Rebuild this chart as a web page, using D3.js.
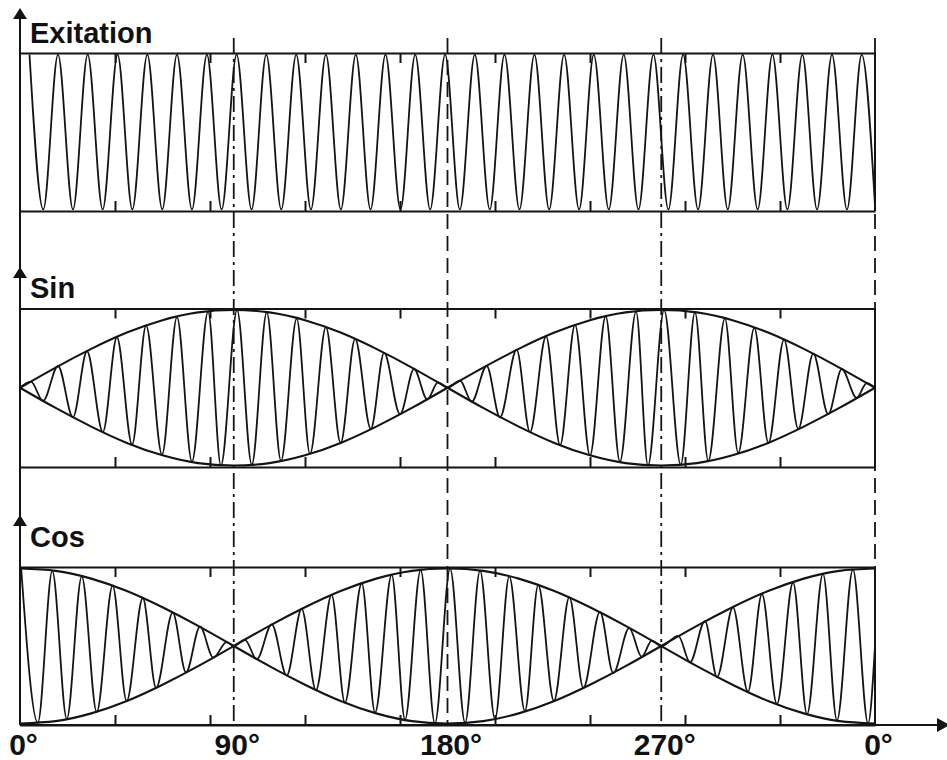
<!DOCTYPE html>
<html>
<head>
<meta charset="utf-8">
<script src="https://cdn.jsdelivr.net/npm/d3@7"></script>
<style>
  body { margin: 0; background: #fff; }
  text { font-family: "Liberation Sans", Arial, sans-serif; font-weight: bold; fill: #111; }
</style>
</head>
<body>
<svg width="947" height="760"></svg>
<script>
// x axis, degrees of rotor angle
const tickAngles = [0, 90, 180, 270, 360];
const tickLabels = ["0°", "90°", "180°", "270°", "0°"];
const gridAngles = [40, 80, 120, 160, 200, 240, 280, 320];
const panelNames = ["Exitation", "Sin", "Cos"];

// excitation carrier, read peak / trough angles
const excPeaks = [4.0, 16.0, 28.5, 41.1, 53.6, 66.1, 78.7, 91.2, 103.7, 116.3, 128.8, 141.4, 153.9, 166.4,
  179.0, 191.5, 204.0, 216.6, 229.1, 241.6, 254.2, 266.7, 279.2, 291.8, 304.3, 316.8, 329.4, 341.9, 354.4];
const excTroughs = [9.8, 22.3, 34.8, 47.3, 59.9, 72.4, 84.9, 97.5, 110.0, 122.5, 135.1, 147.6, 160.2, 172.7,
  185.2, 197.8, 210.3, 222.8, 235.4, 247.9, 260.4, 273.0, 285.5, 298.0, 310.6, 323.1, 335.6, 348.2];
const excEnds = [[360, -0.95]];

// sin winding: [angle, amplitude] at upper peaks and lower troughs
const sinUpper = [[4.6, .08], [16.0, .28], [28.2, .47], [40.8, .65], [53.1, .80], [66.1, .91], [79.2, .98],
  [91.4, 1.0], [103.9, .97], [116.5, .89], [128.8, .78], [141.1, .63], [153.3, .45], [165.9, .24], [176.0, .07],
  [185.3, .09], [196.5, .28], [209.1, .49], [221.5, .66], [233.7, .81], [246.6, .92], [259.4, .98], [271.2, 1.0],
  [284.2, .97], [296.8, .89], [309.2, .77], [321.7, .62], [334.0, .44], [346.0, .24], [356.5, .06]];
const sinLower = [[9.7, .17], [22.3, .38], [34.9, .57], [47.2, .73], [59.8, .86], [72.4, .95], [84.6, 1.0],
  [97.6, .99], [109.9, .94], [122.1, .85], [135.0, .71], [147.7, .53], [160.0, .34], [171.5, .15],
  [190.2, .18], [202.1, .38], [214.7, .57], [227.4, .74], [240.0, .87], [252.6, .95], [264.4, 1.0],
  [278.2, .99], [289.8, .94], [302.4, .84], [315.1, .71], [327.7, .53], [340.3, .34], [352.3, .13]];
const sinNodes = [[0, 0], [180, 0], [360, 0]];

// cos winding
const cosUpper = [[0.5, 1.0], [13.6, .97], [26.0, .90], [39.0, .78], [51.7, .62], [64.3, .43], [75.8, .25], [87.0, .05],
  [94.7, .08], [106.0, .28], [118.6, .48], [131.2, .66], [143.9, .81], [156.5, .92], [168.7, .98], [181.1, 1.0],
  [193.7, .97], [206.0, .90], [218.2, .79], [231.3, .63], [244.2, .44], [256.5, .23], [266.0, .07],
  [277.2, .13], [288.4, .32], [300.2, .50], [312.4, .67], [325.5, .82], [338.1, .93], [350.7, .99]];
const cosLower = [[7.5, .99], [19.7, .94], [32.3, .85], [44.9, .71], [57.3, .54], [69.9, .34], [81.4, .15],
  [99.7, .17], [112.3, .38], [124.6, .57], [136.8, .73], [149.5, .86], [162.1, .95], [174.7, 1.0],
  [187.4, .99], [200.0, .94], [212.6, .84], [224.8, .71], [237.2, .54], [249.8, .35], [261.8, .14],
  [282.1, .21], [293.5, .40], [306.5, .59], [318.7, .75], [331.4, .88], [344.0, .96], [357.1, 1.0]];
const cosNodes = [[90, 0], [270, 0], [360, 0]];

// envelopes
const envAngles = [0, 15, 30, 45, 60, 75, 90, 105, 120, 135, 150, 165, 180, 195, 210, 225, 240, 255, 270, 285, 300, 315, 330, 345, 360];
const sinEnv = [0, .26, .50, .71, .87, .97, 1, .97, .87, .71, .50, .26, 0, -.26, -.50, -.71, -.87, -.97, -1, -.97, -.87, -.71, -.50, -.26, 0];
const cosEnv = [1, .97, .87, .71, .50, .26, 0, -.26, -.50, -.71, -.87, -.97, -1, -.97, -.87, -.71, -.50, -.26, 0, .26, .50, .71, .87, .97, 1];

const ink = "#141414";
const svg = d3.select("svg");
const x = d3.scaleLinear().domain([0, 360]).range([20, 875]);

const panels = [
  { top: 53, bottom: 211, arrow: 8, title: 43 },
  { top: 308.5, bottom: 467, arrow: 267, title: 298 },
  { top: 567, bottom: 725, arrow: 515, title: 547 }
];

function mergeSignal(upper, lower, nodes) {
  return upper.map(d => [d[0], d[1]])
    .concat(lower.map(d => [d[0], -d[1]]))
    .concat(nodes)
    .sort((a, b) => a[0] - b[0]);
}

const signals = [
  excPeaks.map(a => [a, 1]).concat(excTroughs.map(a => [a, -1])).concat(excEnds).sort((a, b) => a[0] - b[0]),
  mergeSignal(sinUpper, sinLower, sinNodes),
  mergeSignal(cosUpper, cosLower, cosNodes)
];
const envelopes = [null, sinEnv, cosEnv];

// vertical reference lines
tickAngles.slice(1).forEach(function (a, i) {
  svg.append("line")
    .attr("x1", x(a)).attr("x2", x(a))
    .attr("y1", 38).attr("y2", 725)
    .attr("stroke", ink).attr("stroke-width", 1.8)
    .attr("stroke-dasharray", i % 2 == 0 ? "16,5,3,5" : "15,7");
});

panels.forEach(function (p, i) {
  const y = d3.scaleLinear().domain([-1.02, 1.02]).range([p.bottom, p.top]);
  const g = svg.append("g");

  // box top / bottom with inner grid ticks
  g.append("g").attr("transform", `translate(0,${p.top})`)
    .call(d3.axisTop(x).tickValues(gridAngles).tickSizeInner(-10).tickSizeOuter(0).tickFormat(""));
  g.append("g").attr("transform", `translate(0,${p.bottom})`)
    .call(d3.axisBottom(x).tickValues(gridAngles).tickSizeInner(-10).tickSizeOuter(0).tickFormat(""));
  g.selectAll(".domain, .tick line").attr("stroke", ink).attr("stroke-width", 2);

  // right edge
  g.append("line").attr("x1", x(360)).attr("x2", x(360)).attr("y1", p.top).attr("y2", p.bottom)
    .attr("stroke", ink).attr("stroke-width", 2);

  if (envelopes[i]) {
    const env = envAngles.map((a, k) => [a, envelopes[i][k]]);
    const envLine = d3.line().x(d => x(d[0])).y(d => y(d[1])).curve(d3.curveNatural);
    g.append("path").attr("d", envLine(env))
      .attr("fill", "none").attr("stroke", ink).attr("stroke-width", 2.1);
    g.append("path").attr("d", envLine(env.map(d => [d[0], -d[1]])))
      .attr("fill", "none").attr("stroke", ink).attr("stroke-width", 2.1);
  }

  const sigLine = d3.line().x(d => x(d[0])).y(d => y(d[1])).curve(d3.curveMonotoneX);
  g.append("path").attr("d", sigLine(signals[i]))
    .attr("fill", "none").attr("stroke", ink).attr("stroke-width", 1.8);

  // arrow head and title
  g.append("path").attr("d", `M${x(0)},${p.arrow}L${x(0) - 7},${p.arrow + 11}L${x(0) + 7},${p.arrow + 11}Z`)
    .attr("fill", ink);
  g.append("text").attr("x", 30).attr("y", p.title).attr("font-size", 29).text(panelNames[i]);
});

// y axis line
svg.append("line").attr("x1", x(0)).attr("x2", x(0)).attr("y1", 10).attr("y2", 725)
  .attr("stroke", ink).attr("stroke-width", 2);

// x axis with arrow
svg.append("line").attr("x1", x(0)).attr("x2", 940).attr("y1", 725).attr("y2", 725)
  .attr("stroke", ink).attr("stroke-width", 2);
svg.append("path").attr("d", "M937,718L937,732L950,725Z").attr("fill", ink);

const xAxis = svg.append("g").attr("transform", "translate(0,725)")
  .call(d3.axisBottom(x).tickValues(tickAngles).tickSize(0).tickFormat((d, k) => tickLabels[k]));
xAxis.select(".domain").remove();
xAxis.selectAll("text")
  .attr("y", 30).attr("dy", 0).attr("dx", 3)
  .attr("font-size", 30)
  .style("font-family", "'Liberation Sans', Arial, sans-serif")
  .style("font-weight", "bold")
  .attr("fill", ink);
</script>
</body>
</html>
